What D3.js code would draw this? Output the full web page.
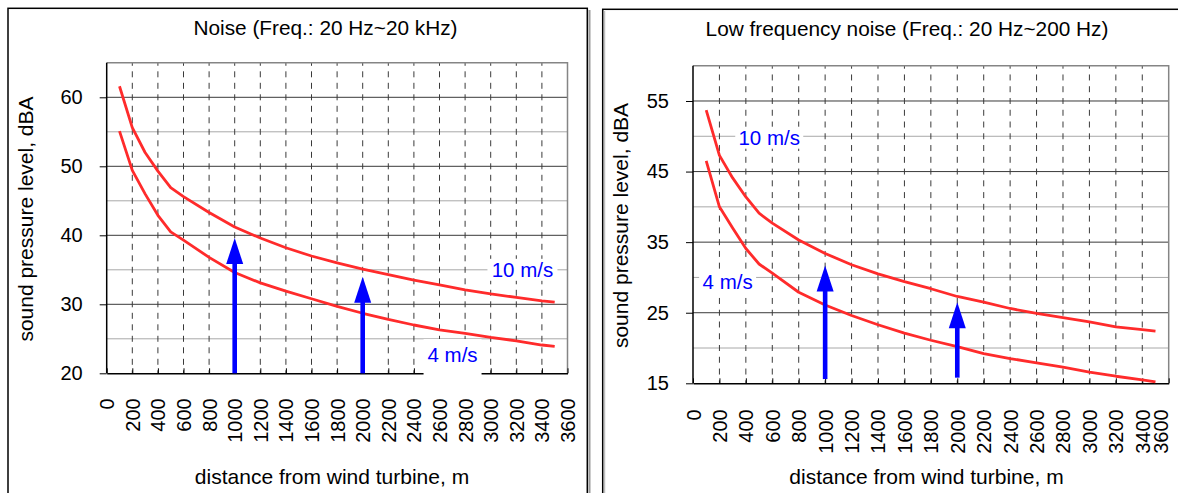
<!DOCTYPE html>
<html>
<head>
<meta charset="utf-8">
<script src="https://cdn.jsdelivr.net/npm/d3@7"></script>
<style>
  body { margin: 0; background: #fff; }
  svg { display: block; }
</style>
</head>
<body>
<div id="chart"></div>
<script>
// distance from turbine (m) where the curves were read
var distances = [100, 200, 300, 400, 500, 600, 800, 1000, 1200, 1400, 1600, 1800, 2000,
                 2200, 2400, 2600, 2800, 3000, 3200, 3400, 3500];

// Noise, 20 Hz - 20 kHz (dBA)
var noise10 = [61.6, 55.6, 52.0, 49.3, 46.9, 45.6, 43.3, 41.2, 39.6, 38.2, 37.0, 36.0, 35.1,
               34.3, 33.5, 32.8, 32.1, 31.5, 31.0, 30.5, 30.3];
var noise4  = [55.1, 49.4, 46.0, 42.9, 40.5, 39.3, 36.8, 34.6, 33.1, 31.9, 30.8, 29.7, 28.7,
               27.8, 27.0, 26.3, 25.8, 25.2, 24.7, 24.1, 23.9];

// Low frequency noise, 20 Hz - 200 Hz (dBA)
var lf10 = [53.7, 47.3, 44.1, 41.4, 39.1, 37.7, 35.3, 33.4, 31.8, 30.5, 29.4, 28.4, 27.3,
            26.5, 25.6, 24.9, 24.3, 23.7, 23.0, 22.6, 22.4];
var lf4  = [46.5, 40.0, 37.0, 34.1, 31.9, 30.6, 27.9, 26.1, 24.6, 23.3, 22.1, 21.1, 20.2,
            19.2, 18.5, 17.9, 17.3, 16.6, 16.0, 15.5, 15.2];

var xTicks = [0, 200, 400, 600, 800, 1000, 1200, 1400, 1600, 1800, 2000, 2200, 2400,
              2600, 2800, 3000, 3200, 3400, 3600];
var noiseTicks = [20, 30, 40, 50, 60];
var noiseMinor = [25, 35, 45, 55];
var lfTicks = [15, 25, 35, 45, 55];
var lfMinor = [20, 30, 40, 50];

// blue arrows: distance, from dBA, to dBA
var noiseArrows = [{x: 1000, from: 20, to: 39.6}, {x: 2000, from: 20, to: 34.0}];
var lfArrows = [{x: 1000, from: 15.6, to: 31.7}, {x: 2000, from: 15.8, to: 26.5}];

// wind speed labels (distance, dBA)
var noiseLabels = [{text: "10 m/s", x: 3248, y: 35}, {text: "4 m/s", x: 2702, y: 22.65}];
var lfLabels = [{text: "10 m/s", x: 577, y: 49.8}, {text: "4 m/s", x: 262, y: 29.35}];

var font = "'Liberation Sans', Arial, sans-serif";

var svg = d3.select("#chart").append("svg")
    .attr("width", 1178)
    .attr("height", 493)
    .style("font-family", font);

// panel frames
svg.append("line").attr("x1", 589.5).attr("x2", 589.5).attr("y1", 10).attr("y2", 493)
  .attr("stroke", "#9a9a9a").attr("stroke-width", 2);
svg.append("rect").attr("x", 8).attr("y", 8.3).attr("width", 579.3).attr("height", 500)
  .attr("fill", "none").attr("stroke", "#000").attr("stroke-width", 1.5);
svg.append("rect").attr("x", 602.7).attr("y", 9.3).attr("width", 600).attr("height", 500)
  .attr("fill", "none").attr("stroke", "#000").attr("stroke-width", 1.5);
svg.append("line").attr("x1", 604.7).attr("x2", 604.7).attr("y1", 11).attr("y2", 493)
  .attr("stroke", "#b0b0b0").attr("stroke-width", 1);

function drawPanel(p) {
  var g = svg.append("g");

  var x = d3.scaleLinear().domain([0, 3600]).range([p.left, p.right]);
  var y = d3.scaleLinear().domain(p.yDomain).range([p.bottom, p.top]);

  // minor horizontal gridlines
  g.selectAll(".minor").data(p.minor).enter().append("line")
    .attr("x1", p.left).attr("x2", p.right)
    .attr("y1", function(d) { return y(d); }).attr("y2", function(d) { return y(d); })
    .attr("stroke", "#a8a8a8").attr("stroke-width", 1);

  // major horizontal gridlines
  g.selectAll(".major").data(p.ticks.slice(1)).enter().append("line")
    .attr("x1", p.left).attr("x2", p.right)
    .attr("y1", function(d) { return y(d); }).attr("y2", function(d) { return y(d); })
    .attr("stroke", "#3a3a3a").attr("stroke-width", 1);

  // dashed vertical gridlines, a dash sits on every major line
  var period = (y(p.ticks[0]) - y(p.ticks[1])) / 6;
  g.selectAll(".vgrid").data(xTicks.slice(1, -1)).enter().append("line")
    .attr("x1", function(d) { return x(d); }).attr("x2", function(d) { return x(d); })
    .attr("y1", p.bottom).attr("y2", p.top)
    .attr("stroke", "#3a3a3a").attr("stroke-width", 1)
    .attr("stroke-dasharray", "6," + (period - 6))
    .attr("stroke-dashoffset", 3);

  // plot border (top, right)
  g.append("path")
    .attr("d", "M" + p.left + "," + p.top + "H" + p.right + "V" + p.bottom)
    .attr("fill", "none").attr("stroke", "#858585").attr("stroke-width", 1.5);

  // y axis
  var yAxis = g.append("g")
    .attr("transform", "translate(" + p.left + ",0)")
    .call(d3.axisLeft(y).tickValues(p.ticks).tickSize(7).tickSizeOuter(0).tickPadding(17));
  yAxis.attr("font-family", font).attr("font-size", 20);
  yAxis.select(".domain").attr("stroke", "#000").attr("stroke-width", 1.5)
    .attr("d", "M0," + p.bottom + "V" + p.top);

  // x axis
  var xAxis = g.append("g")
    .attr("transform", "translate(0," + p.bottom + ")")
    .call(d3.axisBottom(x).tickValues(xTicks).tickSize(-5).tickSizeOuter(0)
      .tickFormat(d3.format("d")));
  xAxis.attr("font-family", font).attr("font-size", 20);
  xAxis.select(".domain").attr("stroke", "#000").attr("stroke-width", 1.5);
  xAxis.selectAll(".tick text")
    .attr("transform", "rotate(-90)")
    .attr("text-anchor", "end")
    .attr("x", -p.labelGap)
    .attr("y", function(d, i) { return i === xTicks.length - 1 ? -p.lastShift : 0; })
    .attr("dy", "0.35em");

  // white boxes behind the labels
  g.selectAll(".lblbox").data(p.labels).enter().append("rect")
    .attr("x", function(d, i) { return x(d.x) - p.boxW[i] / 2; })
    .attr("y", function(d, i) { return y(d.y) - p.boxUp[i]; })
    .attr("width", function(d, i) { return p.boxW[i]; })
    .attr("height", function(d, i) { return p.boxUp[i] + p.boxDown[i]; })
    .attr("fill", "#fff");

  // curves
  var line = d3.line()
    .x(function(d) { return x(d[0]); })
    .y(function(d) { return y(d[1]); });
  g.selectAll(".curve").data(p.series).enter().append("path")
    .attr("d", function(s) { return line(d3.zip(distances, s)); })
    .attr("fill", "none")
    .attr("stroke", "#ff2b2b")
    .attr("stroke-width", 2.8)
    .attr("stroke-linejoin", "round");

  // arrows
  var arrows = g.selectAll(".arrow").data(p.arrows).enter().append("g");
  arrows.append("rect")
    .attr("x", function(d) { return x(d.x) - 2.3; })
    .attr("y", function(d) { return y(d.to) + 20; })
    .attr("width", 4.6)
    .attr("height", function(d) { return y(d.from) - y(d.to) - 20; })
    .attr("fill", "#0000ff");
  arrows.append("path")
    .attr("d", function(d) {
      var ax = x(d.x), ay = y(d.to);
      return "M" + ax + "," + ay + "L" + (ax + 8.5) + "," + (ay + 26) + "L" + (ax - 8.5) + "," + (ay + 26) + "Z";
    })
    .attr("fill", "#0000ff");

  // label texts
  g.selectAll(".lbl").data(p.labels).enter().append("text")
    .attr("x", function(d) { return x(d.x); })
    .attr("y", function(d) { return y(d.y); })
    .attr("dy", "0.35em")
    .attr("text-anchor", "middle")
    .attr("font-size", 20.5)
    .attr("fill", "#0000ff")
    .text(function(d) { return d.text; });

  // titles
  svg.append("text")
    .attr("x", p.titleX).attr("y", p.titleY)
    .attr("text-anchor", "middle").attr("font-size", 20.8)
    .text(p.title);
  svg.append("text")
    .attr("x", p.xTitleX).attr("y", 484)
    .attr("text-anchor", "middle").attr("font-size", 21)
    .text("distance from wind turbine, m");
  svg.append("text")
    .attr("transform", "translate(" + p.yTitleX + "," + ((p.top + p.bottom) / 2 + 1) + ") rotate(-90)")
    .attr("text-anchor", "middle").attr("font-size", 21)
    .text("sound pressure level, dBA");
}

drawPanel({
  title: "Noise (Freq.: 20 Hz~20 kHz)",
  titleX: 325.5, titleY: 34.5,
  xTitleX: 332, yTitleX: 33,
  left: 106.7, right: 567.5, top: 62.8, bottom: 373.3,
  yDomain: [20, 65],
  ticks: noiseTicks, minor: noiseMinor,
  series: [noise10, noise4],
  arrows: noiseArrows,
  labels: noiseLabels,
  boxW: [70, 58], boxUp: [11, 16], boxDown: [11, 22],
  labelGap: 25, lastShift: 0
});

drawPanel({
  title: "Low frequency noise (Freq.: 20 Hz~200 Hz)",
  titleX: 907, titleY: 36,
  xTitleX: 926.5, yTitleX: 628,
  left: 693, right: 1168.7, top: 65.7, bottom: 383.3,
  yDomain: [15, 60],
  ticks: lfTicks, minor: lfMinor,
  series: [lf10, lf4],
  arrows: lfArrows,
  labels: lfLabels,
  boxW: [68, 57], boxUp: [11, 11], boxDown: [11, 11],
  labelGap: 26, lastShift: 8
});
</script>
</body>
</html>
